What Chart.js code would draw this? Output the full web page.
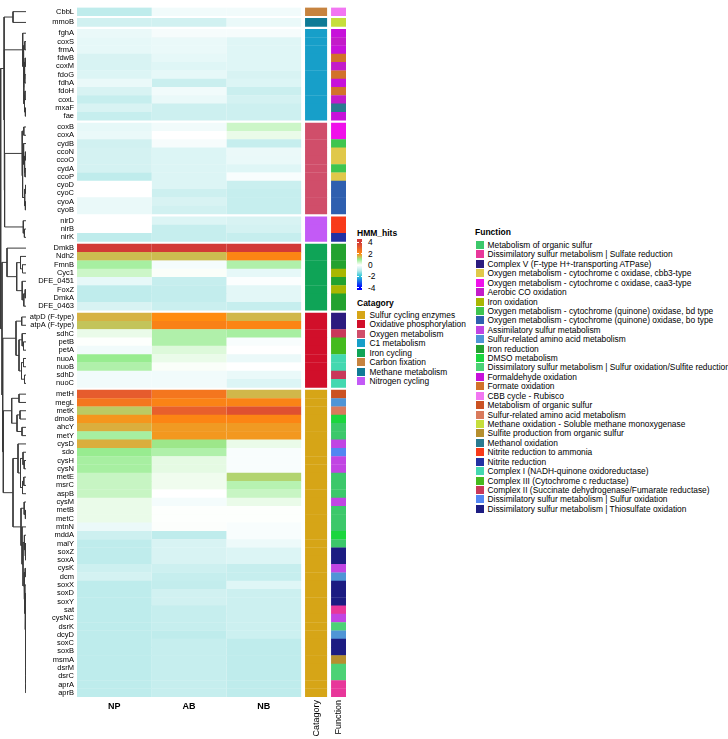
<!DOCTYPE html>
<html lang="en">
<head>
<meta charset="UTF-8">
<title>HMM_hits heatmap</title>
<script src="https://cdn.jsdelivr.net/npm/chart.js"></script>
<style>
  body { margin: 0; background: #fff; font-family: "Liberation Sans", Arial, sans-serif; color: #000; }
  #wrap { position: relative; width: 728px; height: 739px; overflow: hidden; }
  #dendro { position: absolute; left: 0; top: 0; }
  #heat { position: absolute; left: 28px; top: 0; }
  .lg-title { position: absolute; font-weight: bold; font-size: 8.5px; line-height: 10px; white-space: nowrap; }
  .lg-item { position: absolute; height: 9px; display: flex; align-items: center; font-size: 8.4px; white-space: nowrap; }
  .lg-item i { display: inline-block; width: 8px; height: 8px; flex: none; }
  .lg-tick { position: absolute; font-size: 8.4px; line-height: 10px; }
  .cb-mark { position: absolute; width: 1.5px; height: 1px; background: #fff; }
</style>
</head>
<body>
<div id="wrap">
  <canvas id="dendro" width="28" height="739"></canvas>
  <canvas id="heat" width="322" height="739"></canvas>
  <div id="legends"></div>
</div>
<script>
  // rows, top to bottom, split in blocks
  const rowLabels = [
    "CbbL",
    "mmoB",
    "fghA", "coxS", "frmA", "fdwB", "coxM", "fdoG", "fdhA", "fdoH", "coxL", "mxaF", "fae",
    "coxB", "coxA", "cydB", "ccoN", "ccoO", "cydA", "ccoP", "cyoD", "cyoC", "cyoA", "cyoB",
    "nirD", "nirB", "nirK",
    "DmkB", "Ndh2", "FmnB", "Cyc1", "DFE_0451", "FoxZ", "DmkA", "DFE_0463",
    "atpD (F-type)", "atpA (F-type)", "sdhC", "petB", "petA", "nuoA", "nuoB", "sdhD", "nuoC",
    "metH", "megL", "metK", "dmoB", "ahcY", "metY", "cysD", "sdo", "cysH", "cysN", "metE", "msrC", "aspB",
    "cysM", "metB", "metC", "mtnN", "mddA", "malY", "soxZ", "soxA", "cysK", "dcm", "soxX", "soxD", "soxY",
    "sat", "cysNC", "dsrK", "dcyD", "soxC", "soxB", "msmA", "dsrM", "dsrC", "aprA", "aprB"
  ];
  const blockSizes = [1, 1, 11, 11, 3, 8, 9, 37];
  const blockCategory = [5, 6, 3, 2, 7, 4, 1, 0];
  const samples = ["NP", "AB", "NB"];

  const NP = [
    -0.9,
    -0.65,
    -0.3, -0.35, -0.35, -0.55, -0.55, -0.5, -0.3, -0.55, -0.8, -0.55, -0.8,
    -0.35, -0.3, -0.65, -0.6, -0.6, -0.6, -0.9, 0, 0, -0.3, -0.3,
    0, 0, -0.9,
    4, 1.5, 0.85, 0.5, -0.35, -0.9, -0.9, -0.55,
    1.6, 1.42, 0.2, 0.02, -0.2, 1.0, 0.77, -0.2, -0.2,
    3.1, 2.5, 1.35, 1.9, 1.65, 0.85, 1.65, 1.0, 0.85, 0.85, 0.54, 0.54, 0.54,
    0.2, 0.2, 0.2, -0.28, -0.7, -0.9, -0.9, -0.9, -0.7, -0.6, -0.92, -0.92, -0.92,
    -0.92, -0.92, -0.92, -0.92, -0.92, -0.92, -0.92, -0.92, -0.92, -0.92, -0.92
  ];
  const AB = [
    -0.2,
    -0.65,
    -0.12, -0.3, -0.3, -0.35, -0.45, -0.35, -0.75, -0.2, -0.3, -0.7, -0.7,
    -0.2, 0, -0.12, -0.5, -0.5, -0.5, -0.5, -0.5, -0.7, -0.55, -0.65,
    -0.5, -0.8, -0.8,
    4, 1.5, -0.15, 0.05, -0.8, -0.85, -0.85, -0.75,
    2.0, 2.25, 0.77, 0.77, 0.33, 0.2, 0.05, -0.2, -0.2,
    2.5, 2.2, 3.0, 2.15, 1.85, 1.88, 1.05, 0.77, 0.25, 0.25, 0.15, 0.15, 0,
    -0.15, 0.02, 0.02, 0.03, -0.9, -0.55, -0.55, -0.55, -0.7, -0.8, -0.85, -0.65, -0.65,
    -0.8, -0.8, -0.8, -0.9, -0.8, -0.8, -0.8, -0.8, -0.8, -0.8, -0.8
  ];
  const NB = [
    -0.2,
    -0.3,
    -0.12, -0.45, -0.45, -0.45, -0.45, -0.55, -0.5, -0.75, -0.6, -0.7, -0.7,
    0.5, 0.2, -0.8, -0.28, -0.3, -0.45, -0.1, -0.75, -0.8, -0.8, -0.8,
    -0.55, -0.6, -0.8,
    4, 2.15, 0.77, -0.35, -0.05, -0.4, -0.4, -0.8,
    1.55, 2.15, 0.85, -0.1, 0, -0.28, 0, -0.3, -0.5,
    1.55, 2.2, 3.4, 2.15, 1.85, 1.88, 0.2, -0.1, -0.1, -0.1, 1.25, 0.7, 0.54,
    0.2, 0.02, 0.02, -0.1, -0.1, -0.25, -0.5, -0.5, -0.8, -0.8, -0.45, -0.72, -0.72,
    -0.72, -0.72, -0.72, -0.72, -0.9, -0.9, -0.9, -0.9, -0.9, -0.9, -0.9
  ];

  // function index for every row (see functionNames)
  const rowFunction = [
    16,
    19,
    14, 5, 14, 15, 5, 15, 14, 15, 5, 21, 14,
    4, 4, 7, 3, 3, 7, 3, 8, 8, 8, 8,
    22, 22, 23,
    11, 11, 11, 6, 11, 6, 11, 11,
    2, 2, 26, 25, 25, 24, 24, 26, 24,
    17, 10, 18, 12, 0, 0, 9, 27, 9, 9, 0, 0, 0,
    9, 0, 0, 0, 12, 0, 28, 28, 9, 10, 28, 28, 28,
    1, 9, 13, 10, 28, 28, 20, 13, 13, 1, 1
  ];

  const categoryNames = ["Sulfur cycling enzymes", "Oxidative phosphorylation", "Oxygen metabolism", "C1 metabolism",
    "Iron cycling", "Carbon fixation", "Methane metabolism", "Nitrogen cycling"];
  const categoryColors = ["#D6A517", "#D10F2A", "#D04E6A", "#179FC9", "#0FA457", "#C6833F", "#0F7B96", "#C35AF6"];

  const functionNames = [
    "Metabolism of organic sulfur",
    "Dissimilatory sulfur metabolism | Sulfate reduction",
    "Complex V (F-type H+-transporting ATPase)",
    "Oxygen metabolism - cytochrome c oxidase, cbb3-type",
    "Oxygen metabolism - cytochrome c oxidase, caa3-type",
    "Aerobic CO oxidation",
    "Iron oxidation",
    "Oxygen metabolism - cytochrome (quinone) oxidase, bd type",
    "Oxygen metabolism - cytochrome (quinone) oxidase, bo type",
    "Assimilatory sulfur metabolism",
    "Sulfur-related amino acid metabolism",
    "Iron reduction",
    "DMSO metabolism",
    "Dissimilatory sulfur metabolism | Sulfur oxidation/Sulfite reduction",
    "Formaldehyde oxidation",
    "Formate oxidation",
    "CBB cycle - Rubisco",
    "Metabolism of organic sulfur",
    "Sulfur-related amino acid metabolism",
    "Methane oxidation - Soluble methane monoxygenase",
    "Sulfite production from organic sulfur",
    "Methanol oxidation",
    "Nitrite reduction to ammonia",
    "Nitrite reduction",
    "Complex I (NADH-quinone oxidoreductase)",
    "Complex III (Cytochrome c reductase)",
    "Complex II (Succinate dehydrogenase/Fumarate reductase)",
    "Dissimilatory sulfur metabolism | Sulfur oxidation",
    "Dissimilatory sulfur metabolism | Thiosulfate oxidation"
  ];
  const functionColors = [
    "#3CC86A", "#E8379A", "#2B1B7E", "#E0C84A", "#F010EA", "#C31BC9", "#A9B701", "#3FC54F",
    "#2F5FAF", "#C145E3", "#4F95D6", "#23A22F", "#1BD63E", "#4CD275", "#C711DA", "#D2722A",
    "#F276F2", "#CB5222", "#D97A5C", "#C6DE3C", "#B68F2E", "#2A7A90", "#F83A1A", "#2331A3",
    "#44D8B0", "#45BA1E", "#C9385A", "#5286F2", "#1C1C82"
  ];

  // colour scale of HMM_hits
  const hmmBreaks = [-4, -2, -1, 0, 1, 2, 3, 4];
  const hmmColors = ["#0000FF", "#2EC6D6", "#B8EAEA", "#FFFFFF", "#98EC90", "#FF8C10", "#E8602C", "#D23A36"];
  const hmmTicks = [4, 2, 0, -2, -4];

  // row dendrogram: [height, left, right]
  const treeC1 = [3.3, "fghA", [2.6, [1.2, "coxS", "frmA"],
    [2.2, [1.6, [0.8, "fdwB", "coxM"], [1.2, "fdoG", "fdhA"]], [1.5, [1, "fdoH", "coxL"], [0.6, "mxaF", "fae"]]]]];
  const treeOxy = [4, [2.2, "coxB", "coxA"], [3.4, [2.4, "cydB", [1.4, [0.6, "ccoN", "ccoO"], [1, "cydA", "ccoP"]]],
    [1.3, [0.5, "cyoD", "cyoC"], [0.6, "cyoA", "cyoB"]]]];
  const treeNit = [2.7, "nirD", [1.6, "nirB", "nirK"]];
  const treeIron = [19, "DmkB", [9.3, [5.5, "Ndh2", [3.5, "FmnB", "Cyc1"]],
    [3.8, "DFE_0451", [2.2, [0.8, "FoxZ", "DmkA"], "DFE_0463"]]]];
  const treeOxphos = [10, [4.3, "atpD (F-type)", "atpA (F-type)"],
    [7, [3.8, "sdhC", [2.5, "petB", "petA"]], [4.5, [2.5, "nuoA", "nuoB"], [1.5, "sdhD", "nuoC"]]]];
  const treeSulA = [14.3, [7, "metH", "megL"], [9, [6, "metK", "dmoB"], [4, "ahcY", "metY"]]];
  const treeSulB = [8, "cysD", [5.5, [3, "sdo", [1.8, "cysH", "cysN"]], [3.5, [2.2, "metE", "msrC"], "aspB"]]];
  const treeSulD = [0.05, "soxC", [0.05, "soxB", [0.05, "msmA", [0.05, "dsrM", [0.05, "dsrC", [0.05, "aprA", "aprB"]]]]]];
  const treeSulC = [1.2, "soxX", [0.8, [0.3, "soxD", "soxY"], [0.5, [0.2, "sat", [0.1, "cysNC", "dsrK"]], [0.3, "dcyD", treeSulD]]]];
  const treeSulE = [5, [1.8, "cysM", [0.6, "metB", "metC"]],
    [4, "mtnN", [3, [1.6, "mddA", [1, "malY", [0.3, "soxZ", "soxA"]]], [2, [0.8, "cysK", "dcm"], treeSulC]]]];
  const treeSul = [22.7, treeSulA, [13, treeSulB, treeSulE]];
  const treeRoot = [25.3,
    [22, [13, "CbbL", "mmoB"], [21.7, treeC1, [21.4, treeOxy, treeNit]]],
    [24, treeIron, [23.3, treeOxphos, treeSul]]];

  // layout constants
  const blockGap = 0.3;
  const catSpan = [3.052, 3.347];
  const funcSpan = [3.40, 3.60];
  const annoNames = ["Catagory", "Function"];
  const FONT = '"Liberation Sans", Arial, sans-serif';
  Chart.defaults.font.family = FONT;
  Chart.defaults.color = "#000";

  const rowPos = [];
  const rowBlock = [];
  blockSizes.forEach((n, b) => {
    for (let k = 0; k < n; k++) {
      rowPos.push(rowPos.length + b * blockGap);
      rowBlock.push(b);
    }
  });
  const yMin = -0.5;
  const yMax = rowPos[rowPos.length - 1] + 0.5;

  function hexRgb(h) {
    return [parseInt(h.slice(1, 3), 16), parseInt(h.slice(3, 5), 16), parseInt(h.slice(5, 7), 16)];
  }
  function hmmColor(v) {
    if (v <= hmmBreaks[0]) return hmmColors[0];
    for (let i = 1; i < hmmBreaks.length; i++) {
      if (v <= hmmBreaks[i]) {
        const t = (v - hmmBreaks[i - 1]) / (hmmBreaks[i] - hmmBreaks[i - 1]);
        const a = hexRgb(hmmColors[i - 1]), b = hexRgb(hmmColors[i]);
        const c = a.map((x, k) => Math.round(x + (b[k] - x) * t));
        return `rgb(${c[0]},${c[1]},${c[2]})`;
      }
    }
    return hmmColors[hmmColors.length - 1];
  }

  const heatSets = [NP, AB, NB].map((vals, c) => ({
    label: samples[c],
    data: vals.map((v, i) => ({ y: rowPos[i], x: [c, c + 1] })),
    backgroundColor: vals.map(hmmColor)
  }));
  heatSets.push({
    label: "Catagory",
    data: rowPos.map(p => ({ y: p, x: catSpan })),
    backgroundColor: rowBlock.map(b => categoryColors[blockCategory[b]])
  });
  heatSets.push({
    label: "Function",
    data: rowPos.map(p => ({ y: p, x: funcSpan })),
    backgroundColor: rowFunction.map(f => functionColors[f])
  });

  // rotated annotation names under the side columns
  const annoLabels = {
    id: "annoLabels",
    afterDraw(chart) {
      const ctx = chart.ctx;
      const xs = chart.scales.x;
      const top = chart.chartArea.bottom + 3;
      const centers = [(catSpan[0] + catSpan[1]) / 2, (funcSpan[0] + funcSpan[1]) / 2];
      ctx.save();
      ctx.font = "9px " + FONT;
      ctx.fillStyle = "#000";
      ctx.textAlign = "right";
      ctx.textBaseline = "middle";
      annoNames.forEach((t, i) => {
        ctx.save();
        ctx.translate(xs.getPixelForValue(centers[i]), top);
        ctx.rotate(-Math.PI / 2);
        ctx.fillText(t, 0, 0);
        ctx.restore();
      });
      ctx.restore();
    }
  };

  const heatChart = new Chart(document.getElementById("heat"), {
    type: "bar",
    data: { datasets: heatSets },
    plugins: [annoLabels],
    options: {
      indexAxis: "y",
      responsive: false,
      animation: false,
      events: [],
      grouped: false,
      barPercentage: 1.04,
      categoryPercentage: 1,
      borderWidth: 0,
      layout: { padding: { top: 1.5, right: 4, left: 0, bottom: 0 } },
      plugins: { legend: { display: false }, tooltip: { enabled: false } },
      scales: {
        x: {
          type: "linear", min: 0, max: 3.6, offset: false,
          grid: { display: false, drawTicks: false }, border: { display: false },
          afterBuildTicks: s => { s.ticks = samples.map((_, i) => ({ value: i + 0.5 })); },
          afterFit: s => { s.height = 42; },
          ticks: { autoSkip: false, maxRotation: 0, padding: 4, callback: (v, i) => samples[i],
            font: { size: 9, weight: "bold" } }
        },
        y: {
          type: "linear", min: yMin, max: yMax, reverse: true, offset: false,
          grid: { display: false, drawTicks: false }, border: { display: false },
          afterBuildTicks: s => { s.ticks = rowPos.map(v => ({ value: v })); },
          afterFit: s => { s.width = 49; },
          ticks: { autoSkip: false, padding: 3, callback: (v, i) => rowLabels[i], font: { size: 7.5 } }
        }
      }
    }
  });

  // dendrogram segments from the trees
  const dendroPts = [];
  function walk(node) {
    if (typeof node === "string") return { h: 0, y: rowPos[rowLabels.indexOf(node)] };
    const a = walk(node[1]), b = walk(node[2]);
    dendroPts.push({ x: a.h, y: a.y }, { x: node[0], y: a.y }, { x: node[0], y: b.y }, { x: b.h, y: b.y }, { x: null, y: null });
    return { h: node[0], y: (a.y + b.y) / 2 };
  }
  walk(treeRoot);

  const ca = heatChart.chartArea;
  new Chart(document.getElementById("dendro"), {
    type: "scatter",
    data: { datasets: [{ data: dendroPts, showLine: true, spanGaps: false, borderColor: "#3a3a3a",
      borderWidth: 1, pointRadius: 0 }] },
    options: {
      responsive: false,
      animation: false,
      events: [],
      layout: { padding: { top: ca.top, bottom: 739 - ca.bottom, left: 0, right: 2 } },
      plugins: { legend: { display: false }, tooltip: { enabled: false } },
      scales: {
        x: { type: "linear", display: false, min: 0, max: 26, reverse: true },
        y: { type: "linear", display: false, min: yMin, max: yMax, reverse: true }
      }
    }
  });

  // legends
  const lg = document.getElementById("legends");
  function add(html, cls, left, top) {
    const d = document.createElement("div");
    d.className = cls;
    d.style.left = left + "px";
    d.style.top = top + "px";
    d.innerHTML = html;
    lg.appendChild(d);
    return d;
  }
  add("HMM_hits", "lg-title", 357, 228);
  const cbTop = 239, cbH = 51, cbPad = 3.3, cbStep = 5.675;
  const grad = hmmBreaks.slice().reverse().map(v =>
    `${hmmColor(v)} ${((cbPad + (4 - v) * cbStep) / cbH * 100).toFixed(1)}%`).join(", ");
  const cb = add("", "", 357, cbTop);
  cb.style.position = "absolute";
  cb.style.width = "5px";
  cb.style.height = cbH + "px";
  cb.style.background = `linear-gradient(to bottom, ${grad})`;
  hmmTicks.forEach(v => {
    const y = cbTop + cbPad + (4 - v) * cbStep;
    add("", "cb-mark", 357, y - 0.5);
    add("", "cb-mark", 360.5, y - 0.5);
    add(String(v), "lg-tick", 368, y - 5);
  });

  add("Catagory", "lg-title", 357, 298);
  categoryNames.forEach((n, i) => {
    add(`<i style="background:${categoryColors[i]}"></i><span style="margin-left:4.5px">${n}</span>`,
      "lg-item", 357, 315 + i * 9.45 - 4.5);
  });

  add("Function", "lg-title", 475, 227);
  functionNames.forEach((n, i) => {
    add(`<i style="background:${functionColors[i]}"></i><span style="margin-left:3.5px">${n}</span>`,
      "lg-item", 476, 245 + i * 9.42 - 4.5);
  });
</script>
</body>
</html>
